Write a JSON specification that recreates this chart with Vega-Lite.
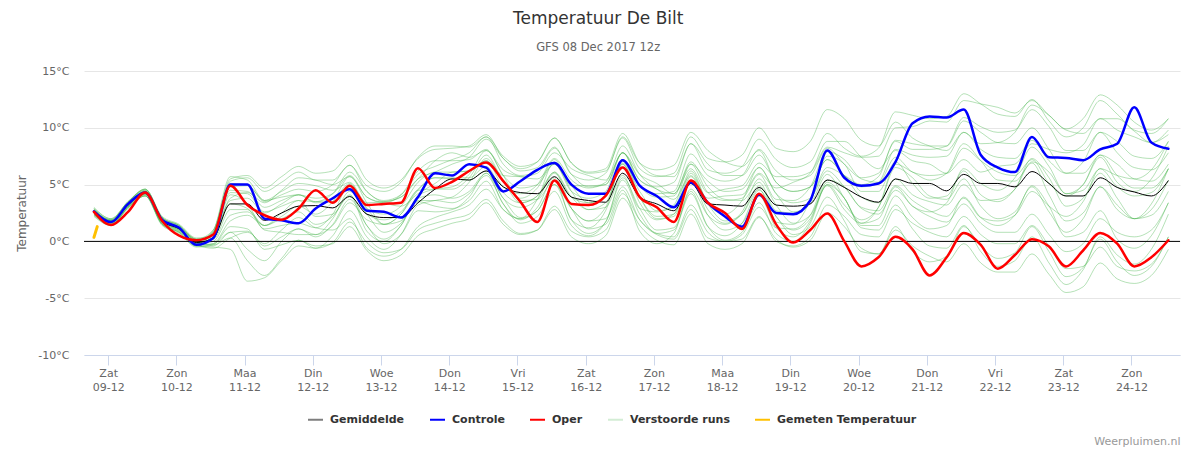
{
"$schema":"https://vega.github.io/schema/vega-lite/v6.json",
"width":1096,"height":284,
"autosize":{"type":"none"},
"padding":{"left":84,"top":71,"right":10,"bottom":95},
"background":"#ffffff",
"title":{"text":"Temperatuur De Bilt","subtitle":"GFS 08 Dec 2017 12z","font":"DejaVu Sans","fontSize":17,"fontWeight":"normal","color":"#333333","subtitleFont":"DejaVu Sans","subtitleFontSize":11.5,"subtitleColor":"#666666","subtitlePadding":14,"anchor":"middle","frame":"bounds","offset":11},
"datasets":{
"runs":[
{"t":"2017-12-08T19:00:00Z","g":2.6,"c":2.65,"o":2.6,"m1":2.9,"m2":2.3,"m3":2.8,"m4":2.4,"m5":2.7,"m6":2.5,"m7":3.0,"m8":2.2,"m9":2.6,"m10":2.6,"m11":2.8,"m12":2.4,"m13":2.9,"m14":2.3,"m15":2.7,"m16":2.5,"m17":2.8,"m18":2.4,"m19":2.6,"m20":2.7},
{"t":"2017-12-09T01:00:00Z","g":1.7,"c":1.7,"o":1.45,"m1":2.0,"m2":1.4,"m3":1.9,"m4":1.5,"m5":1.9,"m6":1.5,"m7":2.0,"m8":1.4,"m9":1.8,"m10":1.7,"m11":1.8,"m12":1.6,"m13":1.8,"m14":1.6,"m15":1.8,"m16":1.6,"m17":1.9,"m18":1.5,"m19":1.7,"m20":1.8},
{"t":"2017-12-09T07:00:00Z","g":3.2,"c":3.3,"o":2.6,"m1":3.5,"m2":2.9,"m3":3.4,"m4":3.0,"m5":3.5,"m6":3.0,"m7":3.5,"m8":3.0,"m9":3.3,"m10":3.1,"m11":3.3,"m12":3.1,"m13":3.2,"m14":3.2,"m15":3.3,"m16":3.1,"m17":3.4,"m18":3.0,"m19":3.2,"m20":3.2},
{"t":"2017-12-09T13:00:00Z","g":4.3,"c":4.3,"o":4.3,"m1":4.6,"m2":4.0,"m3":4.5,"m4":4.1,"m5":4.6,"m6":4.0,"m7":4.5,"m8":4.1,"m9":4.4,"m10":4.2,"m11":4.4,"m12":4.2,"m13":4.2,"m14":4.4,"m15":4.4,"m16":4.2,"m17":4.6,"m18":4.0,"m19":4.3,"m20":4.2},
{"t":"2017-12-09T19:00:00Z","g":1.8,"c":1.9,"o":1.8,"m1":2.1,"m2":1.5,"m3":2.0,"m4":1.6,"m5":2.2,"m6":1.4,"m7":1.9,"m8":1.7,"m9":2.0,"m10":1.6,"m11":1.8,"m12":1.8,"m13":1.5,"m14":2.1,"m15":1.9,"m16":1.7,"m17":2.1,"m18":1.5,"m19":1.8,"m20":1.7},
{"t":"2017-12-10T01:00:00Z","g":1.1,"c":1.2,"o":0.5,"m1":1.4,"m2":0.8,"m3":1.3,"m4":0.9,"m5":1.5,"m6":0.7,"m7":1.2,"m8":1.0,"m9":1.3,"m10":0.9,"m11":1.1,"m12":1.1,"m13":0.8,"m14":1.4,"m15":1.2,"m16":1.0,"m17":1.4,"m18":0.8,"m19":1.1,"m20":1.0},
{"t":"2017-12-10T07:00:00Z","g":-0.1,"c":-0.3,"o":0.1,"m1":0.2,"m2":-0.4,"m3":0.1,"m4":-0.3,"m5":0.3,"m6":-0.5,"m7":0.0,"m8":-0.2,"m9":0.1,"m10":-0.3,"m11":-0.1,"m12":-0.1,"m13":-0.4,"m14":0.2,"m15":0.0,"m16":-0.2,"m17":0.2,"m18":-0.4,"m19":-0.1,"m20":-0.2},
{"t":"2017-12-10T13:00:00Z","g":0.3,"c":0.3,"o":0.6,"m1":1.0,"m2":-0.5,"m3":0.8,"m4":-0.2,"m5":0.6,"m6":-0.3,"m7":1.0,"m8":0.0,"m9":0.5,"m10":-0.6,"m11":0.3,"m12":0.8,"m13":-0.2,"m14":0.5,"m15":-0.3,"m16":0.9,"m17":0.2,"m18":0.7,"m19":-0.4,"m20":0.4},
{"t":"2017-12-10T19:00:00Z","g":3.3,"c":5.0,"o":4.9,"m1":5.5,"m2":-0.7,"m3":4.8,"m4":0.8,"m5":4.3,"m6":1.3,"m7":5.7,"m8":2.3,"m9":3.8,"m10":0.3,"m11":3.3,"m12":5.1,"m13":1.8,"m14":4.1,"m15":0.3,"m16":5.3,"m17":2.8,"m18":4.5,"m19":0.8,"m20":3.6},
{"t":"2017-12-11T01:00:00Z","g":3.3,"c":5.0,"o":3.2,"m1":5.8,"m2":-3.5,"m3":4.9,"m4":-0.7,"m5":4.2,"m6":1.1,"m7":5.4,"m8":2.6,"m9":4.3,"m10":0.8,"m11":2.9,"m12":5.0,"m13":2.3,"m14":3.3,"m15":-1.7,"m16":5.6,"m17":2.8,"m18":4.4,"m19":0.9,"m20":3.8},
{"t":"2017-12-11T07:00:00Z","g":1.85,"c":2.0,"o":2.3,"m1":4.7,"m2":-3.2,"m3":3.6,"m4":-1.7,"m5":2.6,"m6":-0.7,"m7":3.6,"m8":1.4,"m9":3.4,"m10":-0.2,"m11":1.1,"m12":3.5,"m13":1.4,"m14":1.0,"m15":-3.0,"m16":4.4,"m17":1.4,"m18":3.0,"m19":-0.4,"m20":2.5},
{"t":"2017-12-11T13:00:00Z","g":2.5,"c":1.85,"o":1.9,"m1":5.7,"m2":-1.7,"m3":4.4,"m4":0.0,"m5":3.1,"m6":-0.3,"m7":3.9,"m8":2.2,"m9":4.5,"m10":1.0,"m11":1.4,"m12":4.1,"m13":2.5,"m14":0.8,"m15":-1.5,"m16":5.2,"m17":2.0,"m18":3.6,"m19":0.4,"m20":3.3},
{"t":"2017-12-11T19:00:00Z","g":3.1,"c":1.6,"o":2.9,"m1":6.6,"m2":-0.4,"m3":5.1,"m4":1.1,"m5":3.6,"m6":0.1,"m7":4.1,"m8":3.1,"m9":5.6,"m10":2.1,"m11":1.6,"m12":4.6,"m13":3.6,"m14":0.6,"m15":0.1,"m16":6.1,"m17":2.6,"m18":4.1,"m19":1.1,"m20":4.1},
{"t":"2017-12-12T01:00:00Z","g":3.15,"c":2.9,"o":4.5,"m1":6.0,"m2":-0.6,"m3":4.9,"m4":0.4,"m5":3.5,"m6":-0.6,"m7":3.4,"m8":2.4,"m9":5.4,"m10":1.2,"m11":1.2,"m12":4.4,"m13":2.2,"m14":0.6,"m15":-0.4,"m16":5.4,"m17":1.5,"m18":3.5,"m19":0.6,"m20":3.8},
{"t":"2017-12-12T07:00:00Z","g":2.95,"c":3.8,"o":3.4,"m1":6.2,"m2":-0.1,"m3":4.5,"m4":1.5,"m5":4.2,"m6":0.5,"m7":3.5,"m8":3.5,"m9":5.0,"m10":1.0,"m11":2.4,"m12":5.0,"m13":2.4,"m14":1.4,"m15":-0.2,"m16":5.4,"m17":2.2,"m18":3.7,"m19":2.0,"m20":4.2},
{"t":"2017-12-12T13:00:00Z","g":3.95,"c":4.6,"o":4.9,"m1":7.6,"m2":1.7,"m3":5.2,"m4":3.7,"m5":6.1,"m6":2.7,"m7":4.7,"m8":5.7,"m9":5.7,"m10":2.0,"m11":5.0,"m12":6.7,"m13":4.0,"m14":3.4,"m15":1.3,"m16":6.7,"m17":4.1,"m18":5.1,"m19":4.4,"m20":5.8},
{"t":"2017-12-12T19:00:00Z","g":2.4,"c":2.7,"o":3.2,"m1":5.4,"m2":-0.1,"m3":3.4,"m4":1.4,"m5":4.4,"m6":0.4,"m7":2.4,"m8":3.4,"m9":3.9,"m10":-0.6,"m11":2.9,"m12":4.9,"m13":0.9,"m14":1.9,"m15":-0.8,"m16":4.4,"m17":1.4,"m18":2.9,"m19":2.4,"m20":3.9},
{"t":"2017-12-13T01:00:00Z","g":2.1,"c":2.6,"o":3.3,"m1":4.7,"m2":-1.0,"m3":3.5,"m4":-0.2,"m5":3.5,"m6":-0.7,"m7":1.9,"m8":1.5,"m9":3.4,"m10":-1.3,"m11":1.5,"m12":4.4,"m13":0.0,"m14":1.5,"m15":-1.7,"m16":3.6,"m17":0.2,"m18":2.4,"m19":0.8,"m20":3.4},
{"t":"2017-12-13T07:00:00Z","g":2.1,"c":2.1,"o":3.4,"m1":5.4,"m2":-0.7,"m3":3.9,"m4":0.6,"m5":3.9,"m6":0.6,"m7":2.6,"m8":1.8,"m9":3.1,"m10":-0.7,"m11":2.4,"m12":5.2,"m13":1.4,"m14":2.4,"m15":-1.2,"m16":4.1,"m17":1.4,"m18":3.1,"m19":1.6,"m20":4.1},
{"t":"2017-12-13T13:00:00Z","g":3.4,"c":3.9,"o":6.45,"m1":7.3,"m2":1.0,"m3":5.5,"m4":2.7,"m5":5.5,"m6":3.2,"m7":4.6,"m8":3.5,"m9":4.2,"m10":1.3,"m11":4.5,"m12":7.4,"m13":4.0,"m14":4.5,"m15":0.5,"m16":5.9,"m17":3.8,"m18":5.2,"m19":3.6,"m20":6.2},
{"t":"2017-12-13T19:00:00Z","g":4.6,"c":6.0,"o":4.7,"m1":8.1,"m2":1.6,"m3":7.1,"m4":2.6,"m5":6.1,"m6":3.6,"m7":5.6,"m8":3.1,"m9":5.1,"m10":2.1,"m11":4.6,"m12":8.4,"m13":4.6,"m14":5.6,"m15":1.1,"m16":6.6,"m17":4.1,"m18":6.1,"m19":3.6,"m20":7.1},
{"t":"2017-12-14T01:00:00Z","g":5.5,"c":5.8,"o":5.25,"m1":8.2,"m2":2.0,"m3":7.8,"m4":2.8,"m5":6.8,"m6":3.9,"m7":5.5,"m8":2.9,"m9":6.1,"m10":2.6,"m11":4.6,"m12":8.4,"m13":4.8,"m14":5.6,"m15":1.6,"m16":7.2,"m17":3.8,"m18":6.1,"m19":3.4,"m20":7.1},
{"t":"2017-12-14T07:00:00Z","g":5.4,"c":6.8,"o":6.2,"m1":8.4,"m2":2.4,"m3":7.4,"m4":3.9,"m5":7.4,"m6":5.2,"m7":5.4,"m8":3.6,"m9":6.2,"m10":3.2,"m11":5.6,"m12":8.3,"m13":5.9,"m14":5.6,"m15":2.0,"m16":7.8,"m17":4.4,"m18":6.2,"m19":4.2,"m20":7.2},
{"t":"2017-12-14T13:00:00Z","g":6.2,"c":6.5,"o":6.95,"m1":9.4,"m2":3.7,"m3":8.0,"m4":6.0,"m5":9.0,"m6":7.3,"m7":6.2,"m8":5.3,"m9":7.1,"m10":4.6,"m11":7.6,"m12":9.2,"m13":8.0,"m14":6.6,"m15":3.4,"m16":9.2,"m17":6.0,"m18":7.1,"m19":5.8,"m20":8.1},
{"t":"2017-12-14T19:00:00Z","g":4.8,"c":4.4,"o":5.3,"m1":7.3,"m2":1.8,"m3":6.3,"m4":3.8,"m5":7.3,"m6":5.3,"m7":3.8,"m8":2.8,"m9":5.8,"m10":2.8,"m11":5.3,"m12":6.8,"m13":5.8,"m14":4.3,"m15":1.5,"m16":7.5,"m17":3.3,"m18":4.8,"m19":3.3,"m20":5.8},
{"t":"2017-12-15T01:00:00Z","g":4.3,"c":5.3,"o":3.5,"m1":6.4,"m2":0.7,"m3":5.7,"m4":2.1,"m5":6.2,"m6":3.4,"m7":3.0,"m8":2.0,"m9":5.7,"m10":2.0,"m11":3.8,"m12":5.8,"m13":3.6,"m14":3.4,"m15":0.6,"m16":6.6,"m17":1.9,"m18":4.2,"m19":1.6,"m20":4.7},
{"t":"2017-12-15T07:00:00Z","g":4.2,"c":6.3,"o":1.7,"m1":7.0,"m2":1.0,"m3":5.5,"m4":2.7,"m5":6.5,"m6":4.0,"m7":3.7,"m8":3.7,"m9":6.0,"m10":2.7,"m11":4.7,"m12":6.2,"m13":3.7,"m14":4.0,"m15":1.0,"m16":7.0,"m17":3.0,"m18":5.0,"m19":2.2,"m20":5.0},
{"t":"2017-12-15T13:00:00Z","g":5.7,"c":6.9,"o":5.35,"m1":9.1,"m2":2.8,"m3":6.8,"m4":5.0,"m5":8.3,"m6":6.1,"m7":6.0,"m8":7.0,"m9":7.8,"m10":5.0,"m11":7.2,"m12":8.2,"m13":5.4,"m14":6.1,"m15":3.1,"m16":9.1,"m17":5.6,"m18":7.3,"m19":4.4,"m20":6.8},
{"t":"2017-12-15T19:00:00Z","g":3.9,"c":5.0,"o":3.3,"m1":6.9,"m2":0.4,"m3":4.9,"m4":1.9,"m5":5.9,"m6":2.9,"m7":3.9,"m8":4.9,"m9":6.4,"m10":2.9,"m11":4.4,"m12":5.9,"m13":1.9,"m14":3.9,"m15":0.9,"m16":6.9,"m17":2.9,"m18":5.4,"m19":1.4,"m20":4.4},
{"t":"2017-12-16T01:00:00Z","g":3.6,"c":4.2,"o":3.2,"m1":6.0,"m2":-0.2,"m3":4.9,"m4":0.7,"m5":5.4,"m6":1.1,"m7":3.4,"m8":3.4,"m9":5.8,"m10":1.8,"m11":2.8,"m12":4.8,"m13":1.2,"m14":2.8,"m15":0.4,"m16":6.1,"m17":1.8,"m18":4.7,"m19":0.5,"m20":3.8},
{"t":"2017-12-16T07:00:00Z","g":3.45,"c":4.2,"o":4.0,"m1":6.2,"m2":0.5,"m3":5.0,"m4":1.7,"m5":6.0,"m6":1.5,"m7":4.0,"m8":4.0,"m9":5.4,"m10":2.0,"m11":3.4,"m12":5.0,"m13":2.7,"m14":3.0,"m15":1.0,"m16":6.4,"m17":3.0,"m18":5.2,"m19":1.7,"m20":4.4},
{"t":"2017-12-16T13:00:00Z","g":6.0,"c":7.15,"o":6.5,"m1":9.1,"m2":3.8,"m3":7.8,"m4":5.4,"m5":9.2,"m6":4.5,"m7":7.2,"m8":7.2,"m9":7.8,"m10":4.8,"m11":6.8,"m12":7.8,"m13":6.9,"m14":5.8,"m15":4.2,"m16":9.5,"m17":6.8,"m18":8.4,"m19":5.6,"m20":7.8},
{"t":"2017-12-16T19:00:00Z","g":3.9,"c":4.9,"o":3.9,"m1":6.4,"m2":1.4,"m3":5.9,"m4":2.4,"m5":6.9,"m6":0.9,"m7":4.9,"m8":3.9,"m9":5.4,"m10":1.9,"m11":3.4,"m12":4.9,"m13":4.4,"m14":2.9,"m15":1.9,"m16":6.9,"m17":3.9,"m18":5.9,"m19":2.9,"m20":5.4},
{"t":"2017-12-17T01:00:00Z","g":3.3,"c":4.0,"o":3.0,"m1":5.7,"m2":0.1,"m3":5.1,"m4":0.7,"m5":6.3,"m6":-0.2,"m7":4.2,"m8":2.0,"m9":4.6,"m10":0.6,"m11":1.9,"m12":3.9,"m13":2.7,"m14":2.6,"m15":0.7,"m16":5.8,"m17":2.2,"m18":4.6,"m19":1.0,"m20":4.8},
{"t":"2017-12-17T07:00:00Z","g":2.7,"c":3.0,"o":1.7,"m1":6.0,"m2":-0.3,"m3":4.2,"m4":1.0,"m5":6.7,"m6":0.7,"m7":4.4,"m8":2.2,"m9":3.7,"m10":0.2,"m11":2.4,"m12":4.0,"m13":3.0,"m14":3.2,"m15":0.4,"m16":5.7,"m17":2.4,"m18":4.2,"m19":1.2,"m20":5.2},
{"t":"2017-12-17T13:00:00Z","g":5.1,"c":5.2,"o":5.35,"m1":9.2,"m2":2.4,"m3":6.4,"m4":4.2,"m5":9.6,"m6":4.6,"m7":7.7,"m8":5.4,"m9":5.8,"m10":2.8,"m11":6.0,"m12":7.0,"m13":6.2,"m14":6.8,"m15":3.2,"m16":8.6,"m17":5.7,"m18":6.8,"m19":4.4,"m20":8.6},
{"t":"2017-12-17T19:00:00Z","g":3.3,"c":3.4,"o":3.4,"m1":7.3,"m2":-0.2,"m3":4.3,"m4":1.3,"m5":8.0,"m6":2.3,"m7":5.8,"m8":2.3,"m9":3.8,"m10":0.3,"m11":3.3,"m12":4.8,"m13":3.3,"m14":5.3,"m15":0.8,"m16":6.3,"m17":2.8,"m18":4.3,"m19":1.3,"m20":6.8},
{"t":"2017-12-18T01:00:00Z","g":3.2,"c":2.2,"o":2.5,"m1":7.0,"m2":-0.7,"m3":4.6,"m4":0.5,"m5":7.0,"m6":1.5,"m7":5.3,"m8":1.0,"m9":4.0,"m10":0.0,"m11":2.4,"m12":3.7,"m13":1.8,"m14":4.4,"m15":0.0,"m16":6.0,"m17":1.6,"m18":3.6,"m19":0.1,"m20":5.8},
{"t":"2017-12-18T07:00:00Z","g":3.1,"c":1.3,"o":1.1,"m1":7.6,"m2":-0.2,"m3":4.9,"m4":1.6,"m5":6.6,"m6":2.6,"m7":5.8,"m8":1.6,"m9":4.1,"m10":0.6,"m11":3.6,"m12":3.6,"m13":2.4,"m14":4.6,"m15":0.2,"m16":6.6,"m17":2.4,"m18":3.8,"m19":0.8,"m20":5.8},
{"t":"2017-12-18T13:00:00Z","g":4.75,"c":4.1,"o":4.2,"m1":10.0,"m2":2.1,"m3":6.9,"m4":4.5,"m5":8.0,"m6":5.5,"m7":8.1,"m8":4.0,"m9":6.0,"m10":3.0,"m11":6.5,"m12":5.2,"m13":4.6,"m14":6.5,"m15":2.2,"m16":9.0,"m17":4.9,"m18":5.9,"m19":3.4,"m20":7.6},
{"t":"2017-12-18T19:00:00Z","g":3.2,"c":2.5,"o":1.5,"m1":8.2,"m2":0.2,"m3":5.7,"m4":2.2,"m5":5.2,"m6":3.2,"m7":6.2,"m8":1.2,"m9":4.7,"m10":1.2,"m11":4.2,"m12":2.7,"m13":1.7,"m14":4.2,"m15":0.0,"m16":7.2,"m17":2.2,"m18":3.7,"m19":0.7,"m20":5.2},
{"t":"2017-12-19T01:00:00Z","g":3.1,"c":2.4,"o":-0.1,"m1":7.9,"m2":-0.5,"m3":5.7,"m4":0.6,"m5":4.4,"m6":1.6,"m7":5.4,"m8":0.4,"m9":5.2,"m10":1.1,"m11":2.6,"m12":2.5,"m13":1.5,"m14":3.4,"m15":-0.4,"m16":6.5,"m17":1.0,"m18":3.6,"m19":0.0,"m20":4.4},
{"t":"2017-12-19T07:00:00Z","g":3.3,"c":3.6,"o":1.0,"m1":8.8,"m2":0.1,"m3":6.1,"m4":1.3,"m5":4.8,"m6":2.3,"m7":5.8,"m8":1.8,"m9":6.0,"m10":2.3,"m11":3.3,"m12":3.6,"m13":3.6,"m14":3.8,"m15":0.4,"m16":7.0,"m17":2.0,"m18":4.8,"m19":1.6,"m20":4.8},
{"t":"2017-12-19T13:00:00Z","g":5.4,"c":8.0,"o":2.45,"m1":11.6,"m2":2.5,"m3":8.3,"m4":3.9,"m5":7.2,"m6":4.9,"m7":8.2,"m8":5.2,"m9":8.8,"m10":5.4,"m11":5.9,"m12":6.5,"m13":7.5,"m14":6.2,"m15":3.2,"m16":9.5,"m17":5.0,"m18":7.9,"m19":5.0,"m20":7.2},
{"t":"2017-12-19T19:00:00Z","g":4.75,"c":5.6,"o":0.0,"m1":10.8,"m2":1.3,"m3":7.8,"m4":1.8,"m5":5.8,"m6":2.8,"m7":6.8,"m8":3.8,"m9":8.8,"m10":4.8,"m11":3.8,"m12":5.8,"m13":6.8,"m14":4.8,"m15":2.2,"m16":8.2,"m17":3.2,"m18":7.2,"m19":3.8,"m20":5.8},
{"t":"2017-12-20T01:00:00Z","g":3.9,"c":4.9,"o":-2.2,"m1":8.9,"m2":-0.6,"m3":7.4,"m4":-0.9,"m5":4.8,"m6":1.6,"m7":5.6,"m8":1.2,"m9":7.4,"m10":2.9,"m11":1.6,"m12":5.0,"m13":4.4,"m14":3.0,"m15":0.6,"m16":7.5,"m17":1.9,"m18":5.5,"m19":1.4,"m20":3.9},
{"t":"2017-12-20T07:00:00Z","g":3.45,"c":5.1,"o":-1.4,"m1":8.4,"m2":-1.1,"m3":7.5,"m4":-1.1,"m5":5.2,"m6":3.0,"m7":6.0,"m8":1.0,"m9":6.4,"m10":2.4,"m11":2.0,"m12":5.7,"m13":4.4,"m14":2.7,"m15":0.4,"m16":8.2,"m17":3.0,"m18":5.2,"m19":1.4,"m20":3.4},
{"t":"2017-12-20T13:00:00Z","g":5.5,"c":7.0,"o":0.4,"m1":10.5,"m2":1.0,"m3":10.0,"m4":1.3,"m5":8.1,"m6":6.8,"m7":8.8,"m8":3.2,"m9":8.0,"m10":4.5,"m11":4.8,"m12":8.9,"m13":7.0,"m14":4.9,"m15":2.8,"m16":11.4,"m17":6.5,"m18":7.4,"m19":4.0,"m20":5.5},
{"t":"2017-12-20T19:00:00Z","g":5.1,"c":10.4,"o":-0.7,"m1":9.1,"m2":-0.4,"m3":10.1,"m4":-0.9,"m5":7.6,"m6":6.1,"m7":8.1,"m8":1.1,"m9":7.1,"m10":3.1,"m11":3.1,"m12":8.6,"m13":5.1,"m14":3.6,"m15":1.6,"m16":11.1,"m17":5.6,"m18":6.1,"m19":2.1,"m20":4.1},
{"t":"2017-12-21T01:00:00Z","g":5.1,"c":11.0,"o":-3.0,"m1":8.4,"m2":-1.3,"m3":10.6,"m4":-1.8,"m5":7.4,"m6":5.4,"m7":8.1,"m8":-0.4,"m9":6.8,"m10":2.2,"m11":2.6,"m12":8.4,"m13":3.8,"m14":2.7,"m15":0.8,"m16":10.8,"m17":4.0,"m18":5.8,"m19":1.1,"m20":3.5},
{"t":"2017-12-21T07:00:00Z","g":4.45,"c":10.9,"o":-1.4,"m1":8.0,"m2":-1.8,"m3":10.5,"m4":-1.3,"m5":7.5,"m6":6.0,"m7":8.4,"m8":-0.6,"m9":6.0,"m10":1.7,"m11":3.4,"m12":8.4,"m13":4.0,"m14":2.2,"m15":0.4,"m16":11.0,"m17":3.7,"m18":6.0,"m19":1.4,"m20":3.2},
{"t":"2017-12-21T13:00:00Z","g":5.9,"c":11.6,"o":0.75,"m1":9.6,"m2":-0.2,"m3":12.4,"m4":1.3,"m5":9.6,"m6":8.6,"m7":10.9,"m8":1.4,"m9":7.2,"m10":3.3,"m11":6.4,"m12":10.6,"m13":6.2,"m14":3.8,"m15":2.2,"m16":13.0,"m17":5.5,"m18":8.2,"m19":3.9,"m20":5.0},
{"t":"2017-12-21T19:00:00Z","g":5.1,"c":7.6,"o":-0.3,"m1":8.1,"m2":-1.9,"m3":12.1,"m4":-0.4,"m5":8.6,"m6":7.1,"m7":10.1,"m8":-0.9,"m9":6.1,"m10":1.6,"m11":5.1,"m12":9.6,"m13":4.1,"m14":2.1,"m15":0.6,"m16":12.1,"m17":3.1,"m18":7.1,"m19":2.1,"m20":3.6},
{"t":"2017-12-22T01:00:00Z","g":5.1,"c":6.5,"o":-2.4,"m1":7.4,"m2":-2.7,"m3":11.8,"m4":-1.5,"m5":8.7,"m6":5.4,"m7":9.6,"m8":-2.2,"m9":6.6,"m10":0.8,"m11":4.5,"m12":8.7,"m13":3.5,"m14":1.8,"m15":-0.2,"m16":11.2,"m17":2.0,"m18":6.1,"m19":1.4,"m20":3.7},
{"t":"2017-12-22T07:00:00Z","g":4.8,"c":6.1,"o":-1.2,"m1":7.3,"m2":-2.7,"m3":11.3,"m4":-1.0,"m5":9.6,"m6":5.3,"m7":9.8,"m8":-1.7,"m9":6.8,"m10":0.8,"m11":5.6,"m12":8.6,"m13":4.6,"m14":2.3,"m15":-0.2,"m16":11.0,"m17":2.6,"m18":5.8,"m19":2.3,"m20":4.6},
{"t":"2017-12-22T13:00:00Z","g":6.15,"c":9.2,"o":0.2,"m1":8.9,"m2":-1.1,"m3":12.4,"m4":1.3,"m5":12.0,"m6":6.9,"m7":11.6,"m8":0.4,"m9":8.6,"m10":2.4,"m11":8.3,"m12":10.0,"m13":7.3,"m14":4.4,"m15":1.4,"m16":12.5,"m17":4.8,"m18":7.2,"m19":4.9,"m20":7.0},
{"t":"2017-12-22T19:00:00Z","g":5.1,"c":7.4,"o":-0.45,"m1":7.1,"m2":-2.9,"m3":11.1,"m4":-0.9,"m5":11.1,"m6":4.1,"m7":10.1,"m8":-1.9,"m9":8.1,"m10":0.6,"m11":6.6,"m12":8.1,"m13":5.6,"m14":3.1,"m15":-0.4,"m16":10.6,"m17":2.6,"m18":5.1,"m19":3.1,"m20":6.1},
{"t":"2017-12-23T01:00:00Z","g":4.0,"c":7.35,"o":-2.2,"m1":6.0,"m2":-4.5,"m3":9.8,"m4":-3.1,"m5":9.9,"m6":1.8,"m7":8.0,"m8":-3.8,"m9":7.8,"m10":-0.9,"m11":4.2,"m12":6.0,"m13":3.1,"m14":2.2,"m15":-2.4,"m16":9.2,"m17":0.8,"m18":4.0,"m19":0.4,"m20":4.2},
{"t":"2017-12-23T07:00:00Z","g":4.0,"c":7.15,"o":-0.8,"m1":7.0,"m2":-4.0,"m3":9.5,"m4":-2.3,"m5":10.8,"m6":2.5,"m7":8.0,"m8":-2.5,"m9":8.5,"m10":-0.2,"m11":5.0,"m12":6.0,"m13":3.8,"m14":3.5,"m15":-2.2,"m16":10.0,"m17":2.0,"m18":5.0,"m19":0.8,"m20":4.5},
{"t":"2017-12-23T13:00:00Z","g":5.6,"c":8.1,"o":0.75,"m1":9.6,"m2":-1.9,"m3":10.8,"m4":0.2,"m5":12.9,"m6":4.8,"m7":9.6,"m8":0.4,"m9":10.8,"m10":2.0,"m11":7.4,"m12":7.6,"m13":6.0,"m14":6.4,"m15":-0.5,"m16":12.4,"m17":4.8,"m18":7.6,"m19":2.7,"m20":6.4},
{"t":"2017-12-23T19:00:00Z","g":4.75,"c":8.6,"o":-0.2,"m1":8.8,"m2":-3.3,"m3":9.8,"m4":-1.8,"m5":12.0,"m6":2.8,"m7":7.8,"m8":-1.2,"m9":10.8,"m10":0.8,"m11":5.2,"m12":5.8,"m13":3.8,"m14":5.8,"m15":-2.2,"m16":11.2,"m17":3.2,"m18":6.8,"m19":0.2,"m20":4.8},
{"t":"2017-12-24T01:00:00Z","g":4.35,"c":11.8,"o":-2.2,"m1":7.5,"m2":-3.7,"m3":9.2,"m4":-3.0,"m5":10.5,"m6":2.0,"m7":6.5,"m8":-2.0,"m9":9.7,"m10":0.4,"m11":4.4,"m12":4.7,"m13":2.0,"m14":5.5,"m15":-2.6,"m16":9.8,"m17":2.0,"m18":5.5,"m19":-0.6,"m20":4.0},
{"t":"2017-12-24T07:00:00Z","g":4.0,"c":8.7,"o":-1.4,"m1":7.3,"m2":-3.0,"m3":8.7,"m4":-2.2,"m5":9.8,"m6":3.3,"m7":6.3,"m8":-0.7,"m9":8.7,"m10":1.0,"m11":5.5,"m12":4.7,"m13":2.3,"m14":6.3,"m15":-2.0,"m16":9.5,"m17":2.8,"m18":5.3,"m19":0.5,"m20":4.3},
{"t":"2017-12-24T13:00:00Z","g":5.35,"c":8.15,"o":0.1,"m1":8.8,"m2":-0.7,"m3":9.8,"m4":0.4,"m5":10.8,"m6":6.4,"m7":7.8,"m8":2.4,"m9":9.4,"m10":3.4,"m11":8.4,"m12":6.4,"m13":4.4,"m14":8.8,"m15":0.4,"m16":10.8,"m17":5.4,"m18":6.8,"m19":3.4,"m20":6.4}
],
"obs":[
{"t":"2017-12-08T19:00:00Z","v":0.35},
{"t":"2017-12-08T20:10:00Z","v":1.3}
]
},
"layer":[
{"data":{"name":"runs"},
 "transform":[{"fold":["m1","m2","m3","m4","m5","m6","m7","m8","m9","m10","m11","m12","m13","m14","m15","m16","m17","m18","m19","m20"],"as":["run","v"]}],
 "mark":{"type":"line","interpolate":"monotone","strokeWidth":1,"strokeOpacity":0.38,"strokeJoin":"round"},
 "encoding":{
  "x":{"field":"t","type":"temporal","scale":{"type":"utc","domain":[{"year":2017,"month":12,"date":8,"hours":15,"minutes":30,"utc":true},{"year":2017,"month":12,"date":24,"hours":17,"minutes":5,"utc":true}]},
   "axis":{"tickCount":{"interval":"day","step":1},"labelExpr":"[['Zon','Maa','Din','Woe','Don','Vri','Zat'][utcday(datum.value)], utcFormat(datum.value, '%d-%m')]","labelFont":"DejaVu Sans","labelFontSize":11,"labelColor":"#666666","labelLineHeight":14,"labelPadding":2,"labelOverlap":false,"labelFlush":false,"labelBound":false,"tickSize":10,"tickColor":"#ccd6eb","tickWidth":1,"domainColor":"#ccd6eb","domainWidth":1,"grid":false,"title":"Weerpluimen.nl","titleFont":"DejaVu Sans","titleFontSize":11,"titleFontWeight":"normal","titleColor":"#999999","titleAnchor":"end","titleAlign":"right","titleBaseline":"alphabetic","titleY":89}},
  "y":{"field":"v","type":"quantitative","scale":{"domain":[-10,15],"nice":false,"zero":false},
   "axis":{"values":[-10,-5,0,5,10,15],"labelExpr":"datum.value + '°C'","labelFont":"DejaVu Sans","labelFontSize":11,"labelColor":"#666666","labelPadding":15,"ticks":false,"domain":false,"grid":true,"gridColor":"#e6e6e6","gridWidth":1,"title":"Temperatuur","titleFont":"DejaVu Sans","titleFontSize":12,"titleFontWeight":"normal","titleColor":"#666666","titlePadding":9}},
  "detail":{"field":"run"},
  "color":{"datum":"Verstoorde runs","scale":{"domain":["Gemiddelde","Controle","Oper","Verstoorde runs","Gemeten Temperatuur"],"range":["#000000","#0000ff","#ff0000","#3cb043","#ffc000"]},
   "legend":{"title":null,"orient":"none","legendX":223,"legendY":340,"direction":"horizontal","padding":0,"symbolType":"stroke","symbolSize":225,"symbolStrokeWidth":2,"symbolOpacity":1,"labelFont":"DejaVu Sans","labelFontSize":11,"labelFontWeight":"bold","labelColor":"#333333","labelOffset":6,"columnPadding":21,"encode":{"symbols":{"update":{"opacity":{"signal":"datum.value === 'Verstoorde runs' ? 0.22 : datum.value === 'Gemiddelde' ? 0.5 : 1"},"strokeOpacity":{"value":1}}}}}}
 }},
{"data":{"values":[{}]},
 "mark":{"type":"rule","color":"#000000","strokeWidth":1},
 "encoding":{"y":{"datum":0,"type":"quantitative","scale":{"domain":[-10,15],"nice":false,"zero":false}}}},
{"data":{"name":"runs"},
 "mark":{"type":"line","interpolate":"monotone","strokeWidth":1,"strokeJoin":"round"},
 "encoding":{
  "x":{"field":"t","type":"temporal","scale":{"type":"utc"}},
  "y":{"field":"g","type":"quantitative","scale":{"domain":[-10,15],"nice":false,"zero":false}},
  "color":{"datum":"Gemiddelde","scale":{"domain":["Gemiddelde","Controle","Oper","Verstoorde runs","Gemeten Temperatuur"],"range":["#000000","#0000ff","#ff0000","#3cb043","#ffc000"]}}}},
{"data":{"name":"runs"},
 "mark":{"type":"line","interpolate":"monotone","strokeWidth":2.5,"strokeJoin":"round","strokeCap":"round"},
 "encoding":{
  "x":{"field":"t","type":"temporal","scale":{"type":"utc"}},
  "y":{"field":"c","type":"quantitative","scale":{"domain":[-10,15],"nice":false,"zero":false}},
  "color":{"datum":"Controle","scale":{"domain":["Gemiddelde","Controle","Oper","Verstoorde runs","Gemeten Temperatuur"],"range":["#000000","#0000ff","#ff0000","#3cb043","#ffc000"]}}}},
{"data":{"name":"runs"},
 "mark":{"type":"line","interpolate":"monotone","strokeWidth":2.5,"strokeJoin":"round","strokeCap":"round"},
 "encoding":{
  "x":{"field":"t","type":"temporal","scale":{"type":"utc"}},
  "y":{"field":"o","type":"quantitative","scale":{"domain":[-10,15],"nice":false,"zero":false}},
  "color":{"datum":"Oper","scale":{"domain":["Gemiddelde","Controle","Oper","Verstoorde runs","Gemeten Temperatuur"],"range":["#000000","#0000ff","#ff0000","#3cb043","#ffc000"]}}}},
{"data":{"name":"obs"},
 "mark":{"type":"line","strokeWidth":3,"strokeCap":"round"},
 "encoding":{
  "x":{"field":"t","type":"temporal","scale":{"type":"utc"}},
  "y":{"field":"v","type":"quantitative","scale":{"domain":[-10,15],"nice":false,"zero":false}},
  "color":{"datum":"Gemeten Temperatuur","scale":{"domain":["Gemiddelde","Controle","Oper","Verstoorde runs","Gemeten Temperatuur"],"range":["#000000","#0000ff","#ff0000","#3cb043","#ffc000"]}}}}
],
"config":{"view":{"stroke":null},"font":"DejaVu Sans"}
}
